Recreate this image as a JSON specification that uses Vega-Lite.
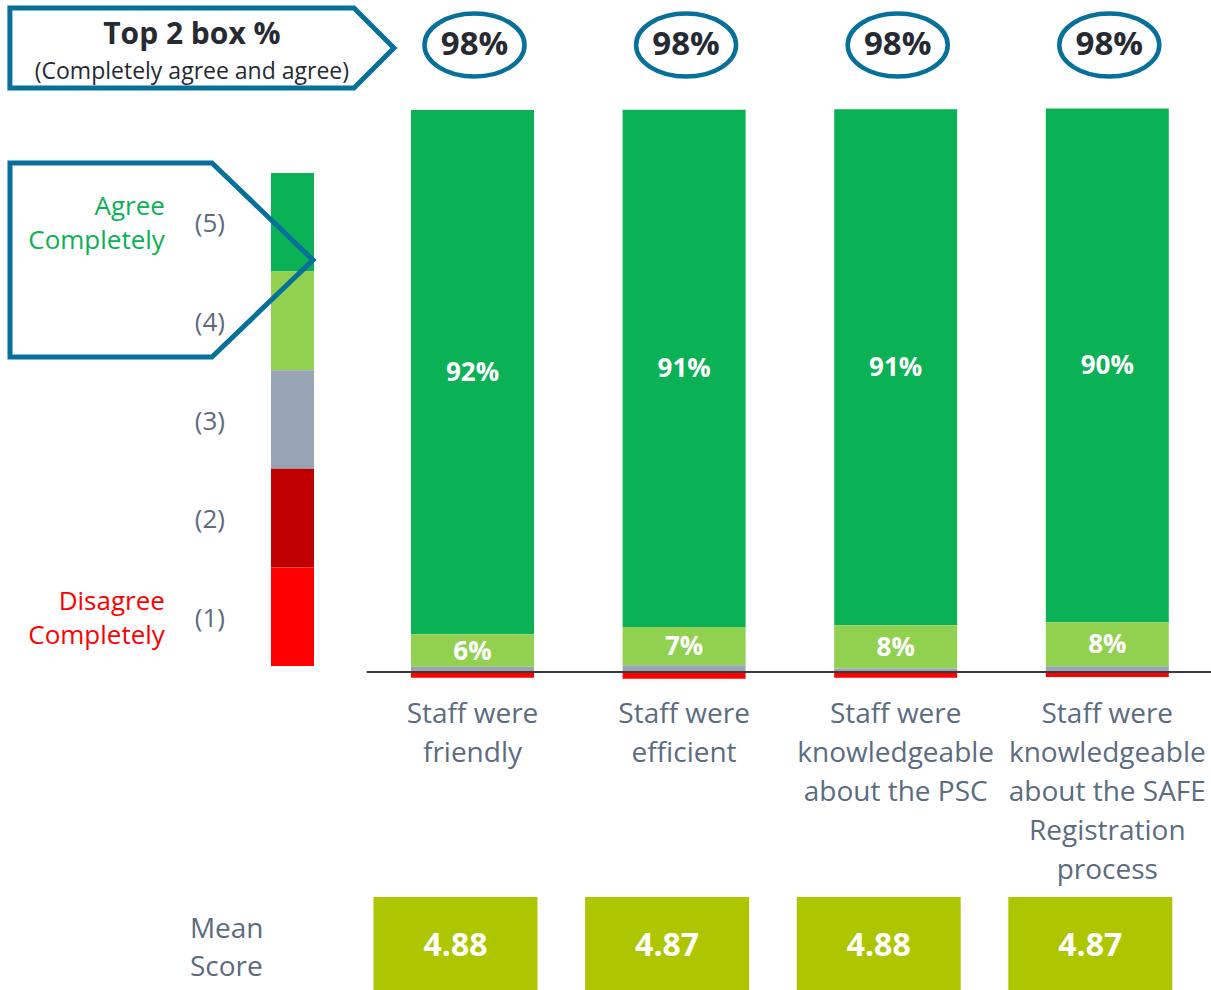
{
  "$schema": "https://vega.github.io/schema/vega-lite/v6.json",
  "width": 1211,
  "height": 990,
  "padding": 0,
  "autosize": {"type": "none"},
  "background": "white",
  "config": {"view": {"stroke": null}, "font": "Open Sans"},
  "datasets": {
    "survey": [
      {"question": "Staff were\nfriendly", "level": 5, "v": 0.921},
      {"question": "Staff were\nfriendly", "level": 4, "v": 0.0575},
      {"question": "Staff were\nfriendly", "level": 3, "v": 0.009},
      {"question": "Staff were\nfriendly", "level": 2, "v": 0},
      {"question": "Staff were\nfriendly", "level": 1, "v": -0.010},
      {"question": "Staff were\nefficient", "level": 5, "v": 0.909},
      {"question": "Staff were\nefficient", "level": 4, "v": 0.067},
      {"question": "Staff were\nefficient", "level": 3, "v": 0.012},
      {"question": "Staff were\nefficient", "level": 2, "v": 0},
      {"question": "Staff were\nefficient", "level": 1, "v": -0.012},
      {"question": "Staff were\nknowledgeable\nabout the PSC", "level": 5, "v": 0.907},
      {"question": "Staff were\nknowledgeable\nabout the PSC", "level": 4, "v": 0.076},
      {"question": "Staff were\nknowledgeable\nabout the PSC", "level": 3, "v": 0.006},
      {"question": "Staff were\nknowledgeable\nabout the PSC", "level": 2, "v": 0},
      {"question": "Staff were\nknowledgeable\nabout the PSC", "level": 1, "v": -0.010},
      {"question": "Staff were\nknowledgeable\nabout the SAFE\nRegistration\nprocess", "level": 5, "v": 0.903},
      {"question": "Staff were\nknowledgeable\nabout the SAFE\nRegistration\nprocess", "level": 4, "v": 0.0775},
      {"question": "Staff were\nknowledgeable\nabout the SAFE\nRegistration\nprocess", "level": 3, "v": 0.010},
      {"question": "Staff were\nknowledgeable\nabout the SAFE\nRegistration\nprocess", "level": 2, "v": 0},
      {"question": "Staff were\nknowledgeable\nabout the SAFE\nRegistration\nprocess", "level": 1, "v": -0.009}
    ],
    "means": [
      {"question": "Staff were\nfriendly", "mean": 4.88},
      {"question": "Staff were\nefficient", "mean": 4.87},
      {"question": "Staff were\nknowledgeable\nabout the PSC", "mean": 4.88},
      {"question": "Staff were\nknowledgeable\nabout the SAFE\nRegistration\nprocess", "mean": 4.87}
    ],
    "legend": [
      {"level": 5, "name": "Agree\nCompletely", "code": "(5)"},
      {"level": 4, "name": "", "code": "(4)"},
      {"level": 3, "name": "", "code": "(3)"},
      {"level": 2, "name": "", "code": "(2)"},
      {"level": 1, "name": "Disagree\nCompletely", "code": "(1)"}
    ],
    "blank": [{}]
  },
  "layer": [
    {
      "data": {"name": "legend"},
      "layer": [
        {
          "mark": {"type": "bar", "width": 43, "height": {"band": 1}, "xOffset": 31.6},
          "encoding": {
            "x": {"datum": "L", "type": "nominal", "scale": {"type": "band", "domain": ["L", "Staff were\nfriendly", "Staff were\nefficient", "Staff were\nknowledgeable\nabout the PSC", "Staff were\nknowledgeable\nabout the SAFE\nRegistration\nprocess"], "range": [155.1, 1213.1], "paddingInner": 0, "paddingOuter": 0}, "axis": null},
            "y": {"field": "level", "type": "ordinal", "scale": {"domain": [5, 4, 3, 2, 1], "range": [173, 666], "paddingInner": 0, "paddingOuter": 0}, "axis": null},
            "color": {"field": "level", "type": "ordinal", "scale": {"domain": [1, 2, 3, 4, 5], "range": ["#ff0000", "#c00000", "#96a4b4", "#92d050", "#0bb155"]}, "legend": null}
          }
        },
        {
          "mark": {"type": "text", "dx": -51, "dy": 2, "fontSize": 26, "color": "#5b6c82", "align": "center", "baseline": "middle"},
          "encoding": {
            "x": {"datum": "L", "type": "nominal"},
            "y": {"field": "level", "type": "ordinal"},
            "text": {"field": "code"}
          }
        },
        {
          "mark": {"type": "text", "dx": -96, "dy": -15, "fontSize": 26, "align": "right", "baseline": "middle", "lineBreak": "\n", "lineHeight": 34},
          "encoding": {
            "x": {"datum": "L", "type": "nominal"},
            "y": {"field": "level", "type": "ordinal"},
            "text": {"field": "name"},
            "color": {"field": "level", "type": "ordinal", "legend": null}
          }
        }
      ]
    },
    {
      "layer": [
        {
          "data": {"name": "blank"},
          "mark": {"type": "point", "shape": "M-1,-0.208L0.792,-0.208L1,0L0.792,0.208L-1,0.208Z", "size": 147456, "filled": false, "stroke": "#06709a", "strokeWidth": 5, "opacity": 1, "xOffset": -59},
          "encoding": {
            "x": {"datum": "L", "type": "nominal"},
            "y": {"datum": 1.0967, "type": "quantitative", "scale": {"domain": [-0.5589, 1.181], "nice": false, "zero": false}, "axis": null}
          }
        },
        {
          "data": {"name": "blank"},
          "mark": {"type": "point", "shape": "M-1,-0.64L0.333,-0.64L1,0L0.333,0.64L-1,0.64Z", "size": 91809, "filled": false, "stroke": "#06709a", "strokeWidth": 5, "opacity": 1, "xOffset": -99.4},
          "encoding": {
            "x": {"datum": "L", "type": "nominal"},
            "y": {"datum": 0.7241, "type": "quantitative"}
          }
        },
        {
          "data": {"name": "blank"},
          "mark": {"type": "text", "text": "Top 2 box %", "dx": -69, "fontSize": 30, "fontWeight": "bold", "color": "#262a33", "baseline": "middle"},
          "encoding": {
            "x": {"datum": "L", "type": "nominal"},
            "y": {"datum": 1.119, "type": "quantitative"}
          }
        },
        {
          "data": {"name": "blank"},
          "mark": {"type": "text", "text": "(Completely agree and agree)", "dx": -69, "fontSize": 23, "color": "#262a33", "baseline": "middle"},
          "encoding": {
            "x": {"datum": "L", "type": "nominal"},
            "y": {"datum": 1.0545, "type": "quantitative"}
          }
        },
        {
          "data": {"name": "blank"},
          "mark": {"type": "text", "text": ["Mean", "Score"], "dx": -71, "align": "left", "baseline": "top", "fontSize": 28, "lineHeight": 38, "color": "#5b6c82"},
          "encoding": {
            "x": {"datum": "L", "type": "nominal"},
            "y": {"datum": -0.4288, "type": "quantitative"}
          }
        },
        {
          "data": {"name": "survey"},
          "transform": [
            {"stack": "v", "groupby": ["question"], "sort": [{"field": "level", "order": "ascending"}], "as": ["s0", "s1"]}
          ],
          "mark": {"type": "bar", "size": 123},
          "encoding": {
            "x": {"field": "question", "type": "nominal"},
            "y": {"field": "s0", "type": "quantitative"},
            "y2": {"field": "s1"},
            "color": {"field": "level", "type": "ordinal", "legend": null}
          }
        },
        {
          "data": {"name": "survey"},
          "transform": [
            {"stack": "v", "groupby": ["question"], "sort": [{"field": "level", "order": "ascending"}], "as": ["s0", "s1"]},
            {"filter": "datum.level >= 4"},
            {"fold": ["s0", "s1"], "as": ["edge", "pos"]}
          ],
          "mark": {"type": "text", "fontSize": 26, "fontWeight": "bold", "color": "white", "baseline": "middle", "dy": 1},
          "encoding": {
            "x": {"field": "question", "type": "nominal"},
            "y": {"field": "pos", "aggregate": "mean", "type": "quantitative"},
            "text": {"field": "v", "type": "quantitative", "format": ".0%"}
          }
        },
        {
          "data": {"name": "blank"},
          "mark": {"type": "rule", "color": "#3a3a3a", "strokeWidth": 2},
          "encoding": {
            "x": {"datum": "L", "type": "nominal", "bandPosition": 1},
            "x2": {"datum": "Staff were\nknowledgeable\nabout the SAFE\nRegistration\nprocess", "bandPosition": 1},
            "y": {"datum": 0, "type": "quantitative"}
          }
        },
        {
          "data": {"name": "survey"},
          "transform": [{"filter": "datum.level == 5"}],
          "mark": {"type": "point", "shape": "M-1,0A1,0.63,0,1,1,1,0A1,0.63,0,1,1,-1,0Z", "size": 10000, "filled": false, "stroke": "#06709a", "strokeWidth": 4.5, "opacity": 1, "xOffset": 2},
          "encoding": {
            "x": {"field": "question", "type": "nominal"},
            "y": {"datum": 1.1019, "type": "quantitative"}
          }
        },
        {
          "data": {"name": "survey"},
          "transform": [{"filter": "datum.level >= 4"}],
          "mark": {"type": "text", "fontSize": 33, "fontWeight": "bold", "color": "#262a33", "baseline": "middle", "dx": 2},
          "encoding": {
            "x": {"field": "question", "type": "nominal"},
            "y": {"datum": 1.1019, "type": "quantitative"},
            "text": {"field": "v", "aggregate": "sum", "type": "quantitative", "format": ".0%"}
          }
        },
        {
          "data": {"name": "survey"},
          "transform": [{"filter": "datum.level == 5"}],
          "mark": {"type": "text", "fontSize": 28, "color": "#5b6c82", "baseline": "top", "lineBreak": "\n", "lineHeight": 39},
          "encoding": {
            "x": {"field": "question", "type": "nominal"},
            "y": {"datum": -0.0504, "type": "quantitative"},
            "text": {"field": "question"}
          }
        },
        {
          "data": {"name": "means"},
          "mark": {"type": "bar", "size": 164, "xOffset": -17, "color": "#aec600"},
          "encoding": {
            "x": {"field": "question", "type": "nominal"},
            "y": {"datum": -0.3954, "type": "quantitative"},
            "y2": {"datum": -0.6}
          }
        },
        {
          "data": {"name": "means"},
          "mark": {"type": "text", "fontSize": 32, "fontWeight": "bold", "color": "white", "baseline": "middle", "dx": -17},
          "encoding": {
            "x": {"field": "question", "type": "nominal"},
            "y": {"datum": -0.4815, "type": "quantitative"},
            "text": {"field": "mean", "type": "quantitative", "format": ".2f"}
          }
        }
      ]
    }
  ],
  "resolve": {"scale": {"y": "independent"}}
}
